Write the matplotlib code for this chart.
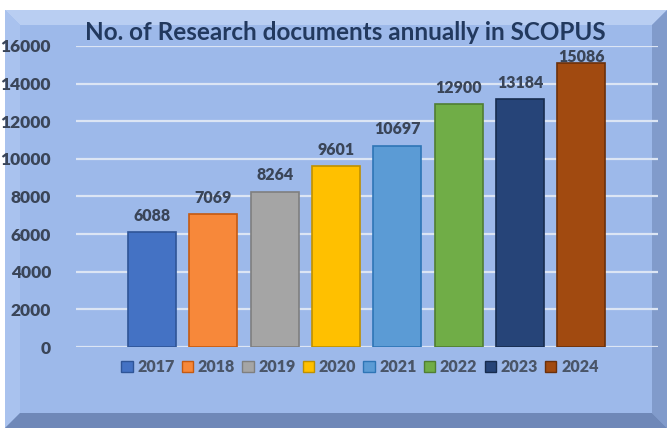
import numpy as np
from matplotlib import pyplot as plt
from matplotlib.patches import Polygon, Rectangle

years = ['2017', '2018', '2019', '2020', '2021', '2022', '2023', '2024']
docs = [6088, 7069, 8264, 9601, 10697, 12900, 13184, 15086]
colors = ['#4472C4', '#F7883A', '#A5A5A5', '#FFC000', '#5B9BD5', '#70AD47', '#264478', '#A14A10']
edges = ['#2F5597', '#C55A11', '#7F7F7F', '#BF9000', '#2E75B6', '#507E32', '#172C4F', '#6B300A']
title = 'No. of Research documents annually in SCOPUS'

W, H = 670, 432
plt.rcParams['font.family'] = ['Lato', 'DejaVu Sans']
plt.rcParams['font.weight'] = 'heavy'
fig = plt.figure(figsize=(W / 100, H / 100), dpi=100, facecolor='white')


def px(x, y):
    # image pixel coords -> figure fraction
    return (x / W, 1 - y / H)


# bevelled frame
x0, y0, x1, y1 = 5, 10, 667, 428
b = 15
face = '#9DB9EA'
fig.patches.append(Rectangle(px(x0, y1), (x1 - x0) / W, (y1 - y0) / H,
                             transform=fig.transFigure, facecolor=face, edgecolor='none', zorder=-2))
bevels = [
    ([(x0, y0), (x1, y0), (x1 - b, y0 + b), (x0 + b, y0 + b)], '#B9CEF2'),
    ([(x0, y0), (x0 + b, y0 + b), (x0 + b, y1 - b), (x0, y1)], '#A9C2EE'),
    ([(x1, y0), (x1, y1), (x1 - b, y1 - b), (x1 - b, y0 + b)], '#819BCB'),
    ([(x0, y1), (x1, y1), (x1 - b, y1 - b), (x0 + b, y1 - b)], '#6F88B8'),
]
for pts, c in bevels:
    fig.patches.append(Polygon([px(*p) for p in pts], closed=True, transform=fig.transFigure,
                               facecolor=c, edgecolor='none', zorder=-1))

ax = fig.add_axes([76 / W, 85 / H, (658 - 76) / W, (347 - 46) / H])
ax.set_facecolor('none')

x = np.arange(len(years))
bars = ax.bar(x, docs, width=0.78, color=colors, edgecolor=edges, linewidth=1.2, zorder=3)
# last label is pushed down to stay inside the plot area (like Excel)
lab_main = [str(v) for v in docs[:-1]] + ['']
lab_last = [''] * (len(docs) - 1) + [str(docs[-1])]
ax.bar_label(bars, labels=lab_main, padding=6, fontsize=11.5,
             fontweight='heavy', color='#3A4558')
ax.bar_label(bars, labels=lab_last, padding=-1, fontsize=11.5,
             fontweight='heavy', color='#3A4558', zorder=4)

ax.set_ylim(0, 16000)
ax.set_yticks(np.arange(0, 16001, 2000))
ax.set_xlim(-1.24, 8.25)
ax.set_xticks([])
ax.grid(axis='y', color='#DCE5F4', linewidth=1.6, zorder=1)
ax.tick_params(axis='y', length=0, pad=18, labelsize=12.5, labelcolor='#3A4558')
for lbl in ax.get_yticklabels():
    lbl.set_fontweight('heavy')
for s in ax.spines.values():
    s.set_visible(False)

fig.text(345 / W, 1 - 33 / H, title, ha='center', va='center', fontsize=17.5,
         fontweight='bold', color='#22395E')

handles = [Rectangle((0, 0), 1, 1, facecolor=c, edgecolor=e, linewidth=1) for c, e in zip(colors, edges)]
leg = fig.legend(handles, years, ncol=8, loc='center', bbox_to_anchor=(360 / W, 1 - 367 / H),
                 frameon=False, handlelength=0.7, handleheight=0.7, handletextpad=0.3,
                 columnspacing=0.45, prop={'weight': 'heavy', 'size': 11.5})
for t in leg.get_texts():
    t.set_color('#4A5568')

fig.savefig('out.png', dpi=100, facecolor='white')
